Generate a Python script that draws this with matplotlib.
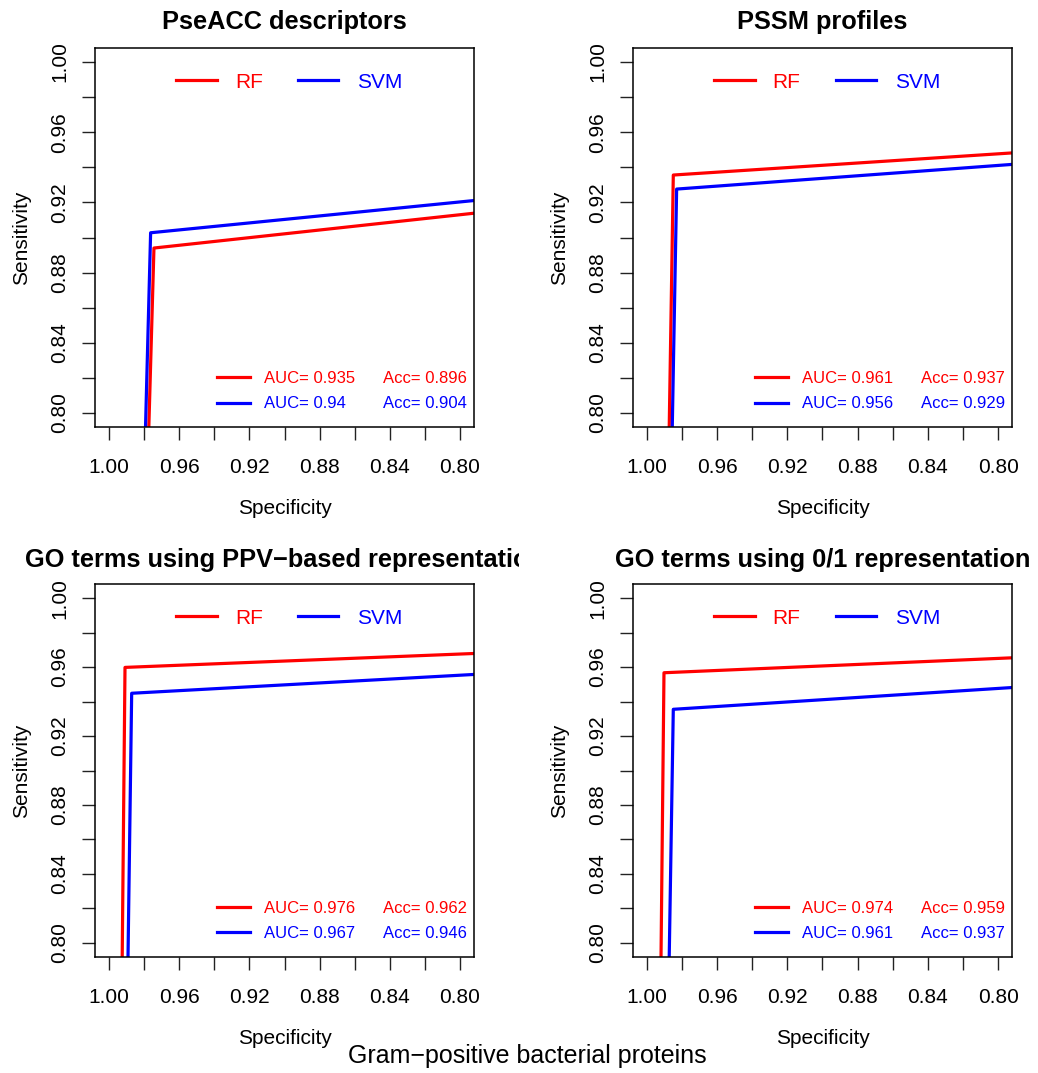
import numpy as np
import matplotlib
matplotlib.use("Agg")
import matplotlib.pyplot as plt
from matplotlib.transforms import Bbox, TransformedBbox

plt.rcParams["font.family"] = ["Liberation Sans", "DejaVu Sans"]

titles = ["PseACC descriptors", "PSSM profiles",
          "GO terms using PPV\u2212based representation", "GO terms using 0/1 representation"]
models = ["RF", "SVM"]
colors = ["#ff0000", "#0000ff"]

# operating point (specificity, sensitivity) per panel, RF then SVM
rf_spec = [0.9744, 0.9849, 0.9909, 0.9902]
rf_sens = [0.8940, 0.9356, 0.9598, 0.9567]
svm_spec = [0.9763, 0.9830, 0.9871, 0.9849]
svm_sens = [0.9027, 0.9276, 0.9448, 0.9355]
auc_rf = ["0.935", "0.961", "0.976", "0.974"]
auc_svm = ["0.94", "0.956", "0.967", "0.961"]
acc_rf = ["0.896", "0.937", "0.962", "0.959"]
acc_svm = ["0.904", "0.929", "0.946", "0.937"]

major = [1.00, 0.96, 0.92, 0.88, 0.84, 0.80]
minor = [0.98, 0.94, 0.90, 0.86, 0.82]

W, H = 1038, 1073
fig = plt.figure(figsize=(W / 100, H / 100), dpi=100)

# plot boxes in pixels: left, top, width, height
boxes = [(95, 48, 379, 379), (632.7, 48, 379.6, 379),
         (95, 584.3, 379, 372.4), (632.7, 584.3, 379.6, 372.4)]

for i, (l, t, w, h) in enumerate(boxes):
    ax = fig.add_axes([l / W, (H - t - h) / H, w / W, h / H])
    specs = [rf_spec[i], svm_spec[i]]
    senss = [rf_sens[i], svm_sens[i]]
    for m in range(2):
        ax.plot([1, specs[m], 0], [0, senss[m], 1], color=colors[m], lw=2.3,
                solid_capstyle="butt")
    ax.set_xlim(1.008, 0.792)
    ax.set_ylim(0.792, 1.008)
    ax.set_xticks(major)
    ax.set_xticklabels([f"{v:.2f}" for v in major])
    ax.set_xticks(minor, minor=True)
    ax.set_yticks(major)
    ax.set_yticklabels([f"{v:.2f}" for v in major], rotation=90, va="center")
    ax.set_yticks(minor, minor=True)
    ax.tick_params(which="both", direction="out", length=9.4, width=1.0,
                   labelsize=15, color="#222222")
    ax.tick_params(axis="x", which="both", pad=13)
    ax.tick_params(axis="y", which="both", pad=9)
    for s in ax.spines.values():
        s.set_linewidth(1.1)
    ax.set_xlabel("Specificity", fontsize=15, labelpad=16)
    ax.set_ylabel("Sensitivity", fontsize=15, labelpad=14)

    def fx(px):
        return px / w

    def fy_top(px):
        return 1 - px / h

    def fy_bot(px):
        return px / h

    # top legend
    y0 = fy_top(32)
    ax.plot([fx(81), fx(122)], [y0, y0], color=colors[0], lw=2.3, transform=ax.transAxes)
    ax.text(fx(140), y0, "RF", color=colors[0], fontsize=15, va="center_baseline",
            transform=ax.transAxes)
    ax.plot([fx(203), fx(243)], [y0, y0], color=colors[1], lw=2.3, transform=ax.transAxes)
    ax.text(fx(262), y0, "SVM", color=colors[1], fontsize=15, va="center_baseline",
            transform=ax.transAxes)

    # AUC / accuracy legend
    rows = [(50, auc_rf[i], acc_rf[i]), (24.5, auc_svm[i], acc_svm[i])]
    for m, (dy, a, c) in enumerate(rows):
        yy = fy_bot(dy)
        ax.plot([fx(122), fx(155)], [yy, yy], color=colors[m], lw=2.3, transform=ax.transAxes)
        ax.text(fx(169), yy, "AUC= " + a, color=colors[m], fontsize=12,
                va="center_baseline", transform=ax.transAxes)
        ax.text(fx(372), yy, "Acc= " + c, color=colors[m], fontsize=12,
                va="center_baseline", ha="right", transform=ax.transAxes)

    # title, clipped to the panel's half of the figure like R does
    cx = (l + w / 2) / W
    ty = 22 if i < 2 else 560
    tt = fig.text(cx, 1 - ty / H, titles[i], fontsize=18.3, fontweight="bold",
                  ha="center", va="center")
    half = Bbox([[0, 0], [0.5, 1]]) if i % 2 == 0 else Bbox([[0.5, 0], [1, 1]])
    tt.set_clip_box(TransformedBbox(half, fig.transFigure))
    tt.set_clip_on(True)

fig.text(527.5 / W, 1 - 1056 / H, "Gram\u2212positive bacterial proteins",
         fontsize=18, ha="center", va="center")

fig.savefig("out.png", dpi=100, facecolor="white")
